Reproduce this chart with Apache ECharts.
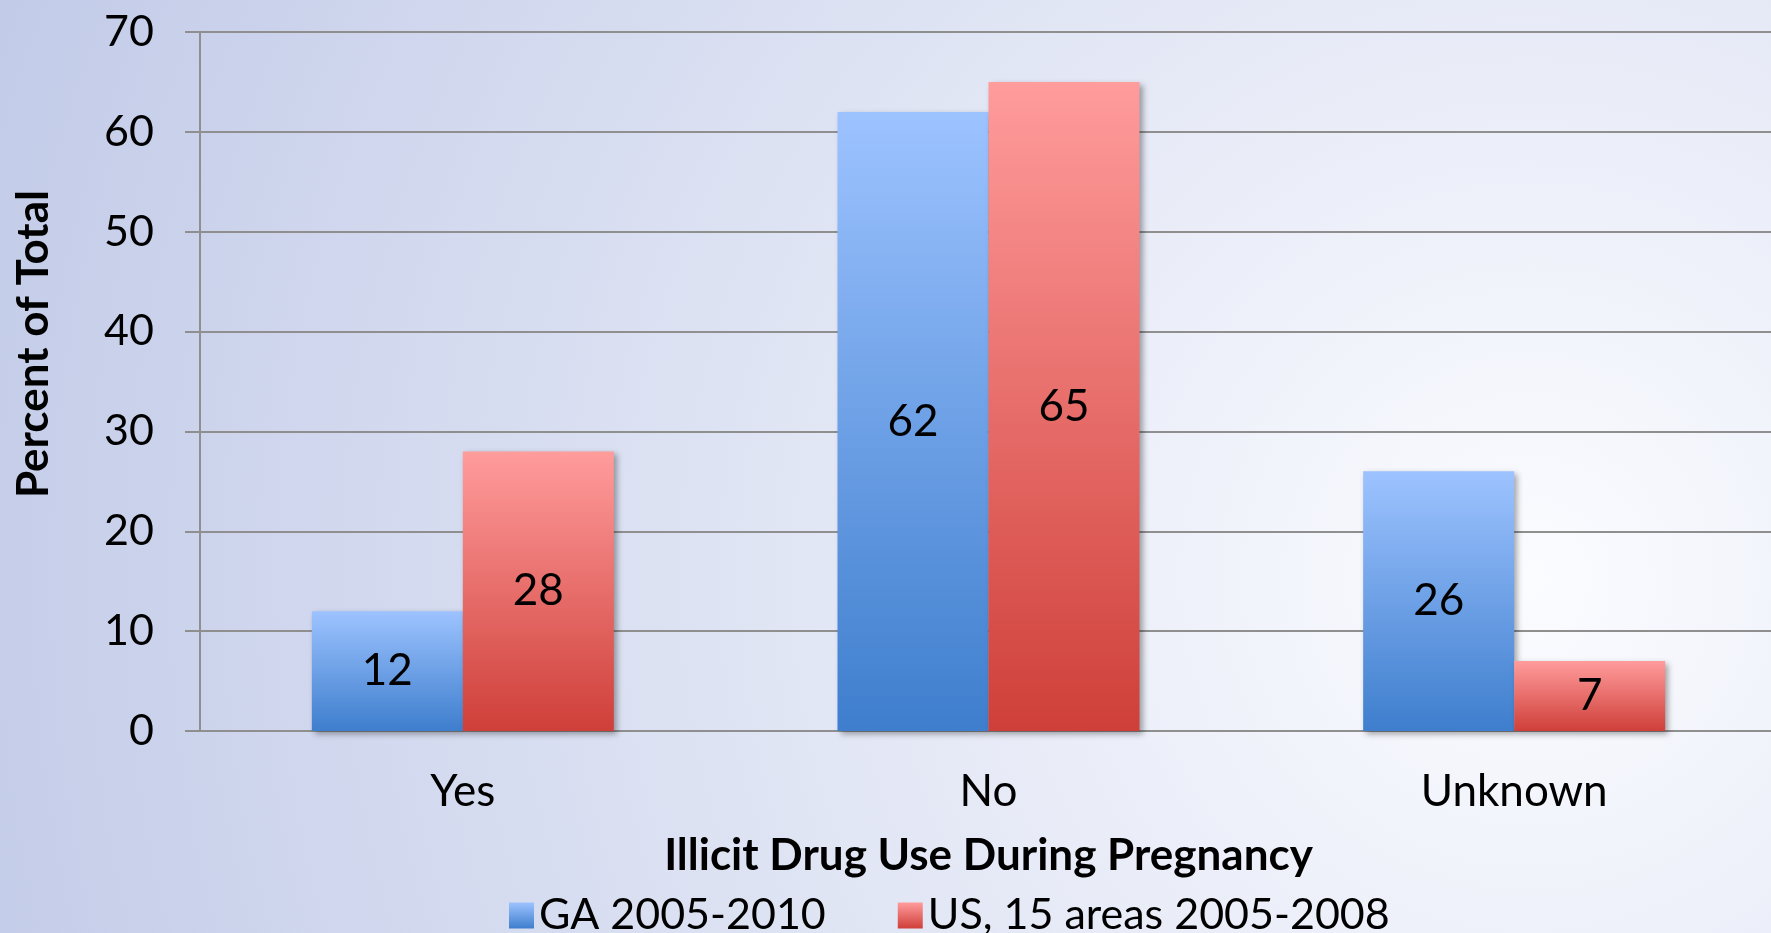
<!DOCTYPE html>
<html>
<head>
<meta charset="utf-8">
<script src="https://cdn.jsdelivr.net/npm/echarts@6/dist/echarts.min.js"></script>
<style>
  html, body { margin: 0; padding: 0; overflow: hidden; }
  #main { width: 1780px; height: 933px; }
</style>
</head>
<body>
<div id="main"></div>
<script>
// chart data
var categories = ['Yes', 'No', 'Unknown'];
var gaValues = [12, 62, 26];
var usValues = [28, 65, 7];
var seriesNames = ['GA 2005-2010', 'US, 15 areas 2005-2008'];
var yTicks = { min: 0, max: 70, interval: 10 };

var dom = document.getElementById('main');
var myChart = echarts.init(dom, null, { renderer: 'canvas' });

var fontFam = 'Lato, "Open Sans", sans-serif';
var gridColor = '#8f8f8f';

function vgrad(top, bottom) {
    return new echarts.graphic.LinearGradient(0, 0, 0, 1, [
        { offset: 0, color: top },
        { offset: 1, color: bottom }
    ]);
}

var option = {
    backgroundColor: {
        type: 'radial', x: 0.86, y: 0.62, r: 1.75,
        colorStops: [
            { offset: 0, color: '#fbfcff' },
            { offset: 1, color: '#c2cbe8' }
        ]
    },
    textStyle: { fontFamily: fontFam },
    grid: { left: 200, top: 32, width: 1577, height: 699 },
    legend: {
        top: 894, left: 509, padding: 0,
        itemWidth: 25, itemHeight: 26, itemGap: 72,
        icon: 'rect',
        textStyle: { fontSize: 43, color: '#000', fontFamily: fontFam },
        data: seriesNames
    },
    graphic: [{
        type: 'text',
        left: 12, top: 190,
        rotation: Math.PI / 2,
        style: { text: 'Percent of Total', font: 'bold 44px ' + fontFam, fill: '#000' }
    }],
    xAxis: {
        type: 'category',
        data: categories,
        name: 'Illicit Drug Use During Pregnancy',
        nameLocation: 'middle',
        nameGap: 103,
        nameTextStyle: { fontSize: 44, fontWeight: 'bold', color: '#000' },
        axisLine: { lineStyle: { color: gridColor, width: 2 } },
        axisTick: { length: 12, lineStyle: { color: gridColor, width: 2 } },
        axisLabel: { fontSize: 44, color: '#000', margin: 39 }
    },
    yAxis: {
        type: 'value',
        min: yTicks.min, max: yTicks.max, interval: yTicks.interval,
        axisLine: { show: true, lineStyle: { color: gridColor, width: 2 } },
        axisTick: { show: true, length: 15, lineStyle: { color: gridColor, width: 2 } },
        splitLine: { lineStyle: { color: gridColor, width: 2 } },
        axisLabel: { fontSize: 43, color: '#000', margin: 46 }
    },
    series: [{
        name: seriesNames[0],
        type: 'bar',
        data: gaValues,
        barGap: '0%',
        barWidth: 151,
        itemStyle: {
            color: vgrad('#9dc3ff', '#3e7ecd'),
            shadowColor: 'rgba(0,0,0,0.35)', shadowBlur: 6, shadowOffsetX: 3, shadowOffsetY: 3
        },
        label: { show: true, position: 'inside', fontSize: 44, color: '#000' }
    }, {
        name: seriesNames[1],
        type: 'bar',
        data: usValues,
        barWidth: 151,
        itemStyle: {
            color: vgrad('#ff9c9c', '#cf3f39'),
            shadowColor: 'rgba(0,0,0,0.35)', shadowBlur: 6, shadowOffsetX: 3, shadowOffsetY: 3
        },
        label: { show: true, position: 'inside', fontSize: 44, color: '#000' }
    }]
};

if (option && typeof option === 'object') {
    myChart.setOption(option);
}
window.addEventListener('resize', myChart.resize);
</script>
</body>
</html>
